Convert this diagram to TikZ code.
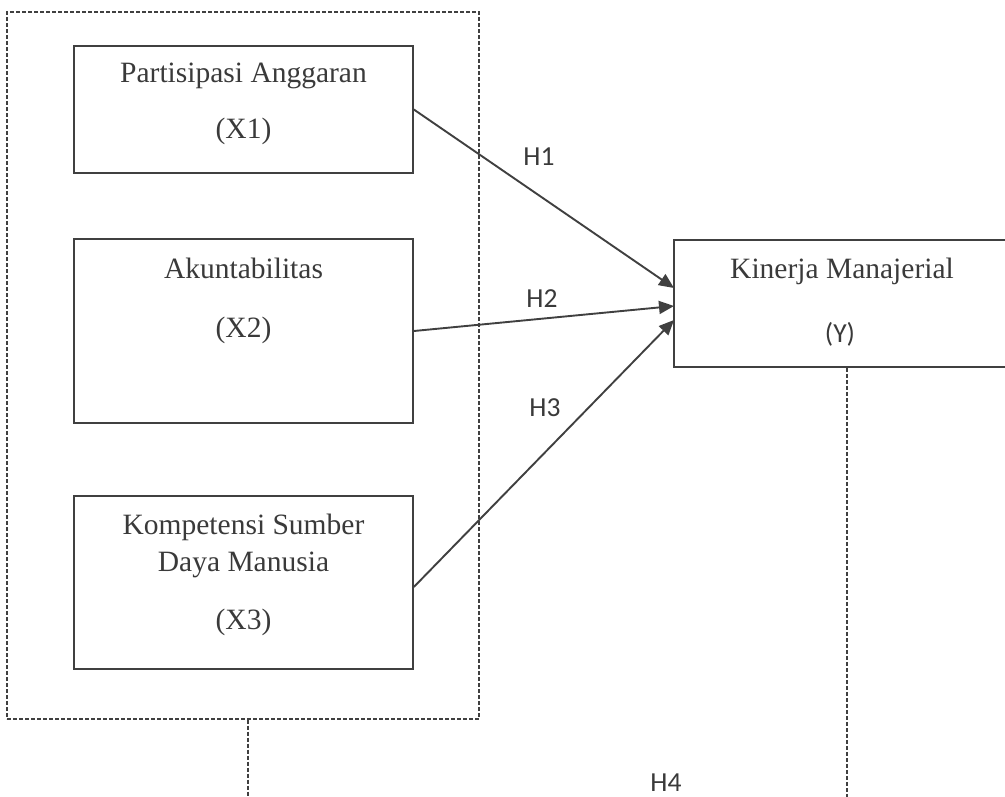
\documentclass[tikz,border=0pt]{standalone}
\usepackage{fontspec}
\setmainfont{Liberation Serif}
\newfontfamily\calibri{Carlito}
\usetikzlibrary{arrows.meta}
\definecolor{linegray}{HTML}{404040}
\definecolor{textgray}{HTML}{3A3A3A}
\begin{document}
\begin{tikzpicture}[x=1pt,y=-1pt,
  varbox/.style={draw=linegray,line width=1.7pt,minimum width=339pt,inner sep=0pt},
  grpbox/.style={draw=linegray,line width=1.1pt,dash pattern=on 4pt off 2pt},
  txt/.style={anchor=base,inner sep=0pt,text=textgray,font=\fontsize{29.5}{35}\selectfont},
  hlab/.style={anchor=base,inner sep=0pt,text=textgray,font=\calibri\fontsize{27.5}{33}\selectfont},
  hyp/.style={draw=linegray,line width=1.9pt,-{Triangle[length=15pt,width=13pt]}}]
\useasboundingbox (0,0) rectangle (1005,796);
\clip (0,0) rectangle (1005,796);
\node[grpbox,minimum width=472pt,minimum height=707pt,inner sep=0pt] (grp) at (243,365.5) {};
\node[varbox,minimum height=127pt] (x1) at (243.5,109.5) {};
\node[varbox,minimum height=184pt] (x2) at (243.5,331) {};
\node[varbox,minimum height=173pt] (x3) at (243.5,582.5) {};
\node[varbox,minimum width=336pt,minimum height=127pt] (y) at (842,303.5) {};
\node[txt] (x1a) at (243.5,82) {Partisipasi Anggaran};
\node[txt] (x1b) at (243.5,138) {(X1)};
\node[txt] (x2a) at (243.5,278) {Akuntabilitas};
\node[txt] (x2b) at (243.5,337) {(X2)};
\node[txt] (x3a) at (243.5,534) {Kompetensi Sumber};
\node[txt] (x3b) at (243.5,571) {Daya Manusia};
\node[txt] (x3c) at (243.5,629) {(X3)};
\node[txt] (ya) at (842,278) {Kinerja Manajerial};
\node[hlab] (yb) at (840,342) {(Y)};
\coordinate (y1) at (674,288);
\coordinate (y2) at (674,306);
\coordinate (y3) at (674,320);
\draw[hyp] (x1.east) -- (y1);
\draw[hyp] (x2.east) -- (y2);
\draw[hyp] ([yshift=-4.5pt]x3.east) -- (y3);
\node[hlab] (h1) at (539,165) {H1};
\node[hlab] (h2) at (542,307) {H2};
\node[hlab] (h3) at (545,416) {H3};
\node[hlab] (h4) at (666,791) {H4};
% moderating links, cut at the page edge
\coordinate (g4) at (248,800);
\coordinate (y4) at (847,800);
\draw[grpbox] ([xshift=5pt]grp.south) -- (g4);
\draw[grpbox] ([xshift=5pt]y.south) -- (y4);
\end{tikzpicture}
\end{document}
